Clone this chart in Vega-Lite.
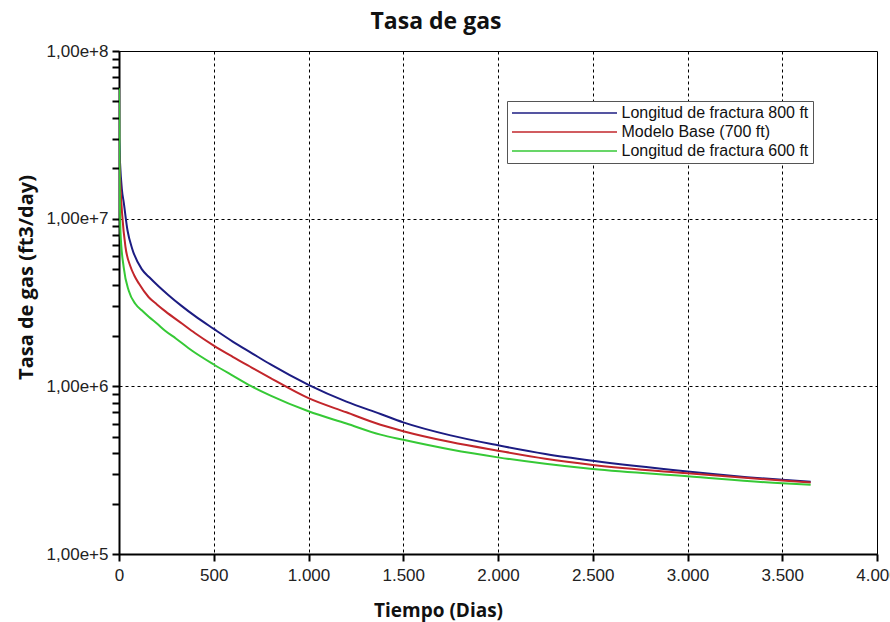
{
  "$schema": "https://vega.github.io/schema/vega-lite/v6.json",
  "autosize": "none",
  "width": 758,
  "height": 503,
  "padding": {"left": 119, "top": 51, "right": 13, "bottom": 68},
  "background": "white",
  "title": {"text": "Tasa de gas", "font": "Open Sans", "fontSize": 23, "fontWeight": "bold", "color": "#111", "anchor": "middle", "dx": -62, "offset": -10, "baseline": "alphabetic"},
  "data": {"values": [
    {"serie": "Longitud de fractura 800 ft", "t": 0, "q": 30000000},
    {"serie": "Longitud de fractura 800 ft", "t": 5, "q": 22000000},
    {"serie": "Longitud de fractura 800 ft", "t": 15, "q": 15000000},
    {"serie": "Longitud de fractura 800 ft", "t": 25, "q": 12500000},
    {"serie": "Longitud de fractura 800 ft", "t": 45, "q": 8500000},
    {"serie": "Longitud de fractura 800 ft", "t": 70, "q": 6600000},
    {"serie": "Longitud de fractura 800 ft", "t": 120, "q": 5000000},
    {"serie": "Longitud de fractura 800 ft", "t": 160, "q": 4470000},
    {"serie": "Longitud de fractura 800 ft", "t": 210, "q": 3940000},
    {"serie": "Longitud de fractura 800 ft", "t": 260, "q": 3510000},
    {"serie": "Longitud de fractura 800 ft", "t": 330, "q": 3020000},
    {"serie": "Longitud de fractura 800 ft", "t": 400, "q": 2630000},
    {"serie": "Longitud de fractura 800 ft", "t": 500, "q": 2200000},
    {"serie": "Longitud de fractura 800 ft", "t": 600, "q": 1850000},
    {"serie": "Longitud de fractura 800 ft", "t": 700, "q": 1580000},
    {"serie": "Longitud de fractura 800 ft", "t": 800, "q": 1350000},
    {"serie": "Longitud de fractura 800 ft", "t": 1000, "q": 1020000},
    {"serie": "Longitud de fractura 800 ft", "t": 1200, "q": 810000},
    {"serie": "Longitud de fractura 800 ft", "t": 1380, "q": 684000},
    {"serie": "Longitud de fractura 800 ft", "t": 1500, "q": 610000},
    {"serie": "Longitud de fractura 800 ft", "t": 1750, "q": 510000},
    {"serie": "Longitud de fractura 800 ft", "t": 2000, "q": 445000},
    {"serie": "Longitud de fractura 800 ft", "t": 2250, "q": 395000},
    {"serie": "Longitud de fractura 800 ft", "t": 2500, "q": 360000},
    {"serie": "Longitud de fractura 800 ft", "t": 3000, "q": 311000},
    {"serie": "Longitud de fractura 800 ft", "t": 3500, "q": 277000},
    {"serie": "Longitud de fractura 800 ft", "t": 3650, "q": 270000},
    {"serie": "Modelo Base (700 ft)", "t": 0, "q": 26000000},
    {"serie": "Modelo Base (700 ft)", "t": 5, "q": 18000000},
    {"serie": "Modelo Base (700 ft)", "t": 17, "q": 10500000},
    {"serie": "Modelo Base (700 ft)", "t": 34, "q": 6800000},
    {"serie": "Modelo Base (700 ft)", "t": 60, "q": 5200000},
    {"serie": "Modelo Base (700 ft)", "t": 80, "q": 4600000},
    {"serie": "Modelo Base (700 ft)", "t": 105, "q": 4100000},
    {"serie": "Modelo Base (700 ft)", "t": 157, "q": 3400000},
    {"serie": "Modelo Base (700 ft)", "t": 200, "q": 3080000},
    {"serie": "Modelo Base (700 ft)", "t": 245, "q": 2800000},
    {"serie": "Modelo Base (700 ft)", "t": 334, "q": 2360000},
    {"serie": "Modelo Base (700 ft)", "t": 400, "q": 2080000},
    {"serie": "Modelo Base (700 ft)", "t": 500, "q": 1750000},
    {"serie": "Modelo Base (700 ft)", "t": 600, "q": 1500000},
    {"serie": "Modelo Base (700 ft)", "t": 700, "q": 1295000},
    {"serie": "Modelo Base (700 ft)", "t": 800, "q": 1120000},
    {"serie": "Modelo Base (700 ft)", "t": 1000, "q": 850000},
    {"serie": "Modelo Base (700 ft)", "t": 1200, "q": 700000},
    {"serie": "Modelo Base (700 ft)", "t": 1380, "q": 590000},
    {"serie": "Modelo Base (700 ft)", "t": 1500, "q": 540000},
    {"serie": "Modelo Base (700 ft)", "t": 1750, "q": 465000},
    {"serie": "Modelo Base (700 ft)", "t": 2000, "q": 413000},
    {"serie": "Modelo Base (700 ft)", "t": 2250, "q": 370000},
    {"serie": "Modelo Base (700 ft)", "t": 2500, "q": 340000},
    {"serie": "Modelo Base (700 ft)", "t": 3000, "q": 303000},
    {"serie": "Modelo Base (700 ft)", "t": 3500, "q": 274000},
    {"serie": "Modelo Base (700 ft)", "t": 3650, "q": 267000},
    {"serie": "Longitud de fractura 600 ft", "t": 0, "q": 60000000},
    {"serie": "Longitud de fractura 600 ft", "t": 3, "q": 20000000},
    {"serie": "Longitud de fractura 600 ft", "t": 8, "q": 8200000},
    {"serie": "Longitud de fractura 600 ft", "t": 25, "q": 5100000},
    {"serie": "Longitud de fractura 600 ft", "t": 52, "q": 3700000},
    {"serie": "Longitud de fractura 600 ft", "t": 87, "q": 3100000},
    {"serie": "Longitud de fractura 600 ft", "t": 120, "q": 2840000},
    {"serie": "Longitud de fractura 600 ft", "t": 157, "q": 2600000},
    {"serie": "Longitud de fractura 600 ft", "t": 200, "q": 2370000},
    {"serie": "Longitud de fractura 600 ft", "t": 245, "q": 2140000},
    {"serie": "Longitud de fractura 600 ft", "t": 300, "q": 1930000},
    {"serie": "Longitud de fractura 600 ft", "t": 386, "q": 1630000},
    {"serie": "Longitud de fractura 600 ft", "t": 500, "q": 1350000},
    {"serie": "Longitud de fractura 600 ft", "t": 600, "q": 1160000},
    {"serie": "Longitud de fractura 600 ft", "t": 700, "q": 1000000},
    {"serie": "Longitud de fractura 600 ft", "t": 800, "q": 880000},
    {"serie": "Longitud de fractura 600 ft", "t": 1000, "q": 710000},
    {"serie": "Longitud de fractura 600 ft", "t": 1200, "q": 600000},
    {"serie": "Longitud de fractura 600 ft", "t": 1380, "q": 515000},
    {"serie": "Longitud de fractura 600 ft", "t": 1500, "q": 480000},
    {"serie": "Longitud de fractura 600 ft", "t": 1750, "q": 420000},
    {"serie": "Longitud de fractura 600 ft", "t": 2000, "q": 377000},
    {"serie": "Longitud de fractura 600 ft", "t": 2250, "q": 345000},
    {"serie": "Longitud de fractura 600 ft", "t": 2500, "q": 321000},
    {"serie": "Longitud de fractura 600 ft", "t": 3000, "q": 291000},
    {"serie": "Longitud de fractura 600 ft", "t": 3500, "q": 264000},
    {"serie": "Longitud de fractura 600 ft", "t": 3650, "q": 259000}
  ]},
  "mark": {"type": "line", "strokeWidth": 2, "clip": true, "interpolate": "monotone"},
  "encoding": {
    "x": {
      "field": "t", "type": "quantitative",
      "scale": {"domain": [0, 4000], "nice": false, "zero": false},
      "axis": {
        "values": [0, 500, 1000, 1500, 2000, 2500, 3000, 3500, 4000],
        "labelExpr": "replace(format(datum.value, ','), ',', '.')",
        "labelFont": "Liberation Sans", "labelFontSize": 17, "labelColor": "#222", "labelPadding": 6, "labelOverlap": false, "labelFlush": false,
        "tickSize": 7, "tickWidth": 2, "tickColor": "#000",
        "domainColor": "#000", "domainWidth": 2,
        "grid": true, "gridColor": "#000", "gridDash": [3, 3], "gridWidth": 1, "gridOpacity": {"condition": {"test": "datum.value > 0 && datum.value < 4000", "value": 1}, "value": 0},
        "title": "Tiempo (Dias)", "titleFont": "Open Sans", "titleFontSize": 19, "titleFontWeight": "bold", "titleColor": "#111",
        "titleX": 319, "titleY": 62, "titleAlign": "center", "titleBaseline": "alphabetic"
      }
    },
    "y": {
      "field": "q", "type": "quantitative",
      "scale": {"type": "log", "domain": [100000, 100000000], "nice": false},
      "axis": {
        "values": [100000, 200000, 300000, 400000, 500000, 600000, 700000, 800000, 900000, 1000000, 2000000, 3000000, 4000000, 5000000, 6000000, 7000000, 8000000, 9000000, 10000000, 20000000, 30000000, 40000000, 50000000, 60000000, 70000000, 80000000, 90000000, 100000000],
        "labelExpr": "(datum.value === 100000 || datum.value === 1000000 || datum.value === 10000000 || datum.value === 100000000) ? replace(format(datum.value, '.2e'), '.', ',') : ''",
        "labelFont": "Liberation Sans", "labelFontSize": 17, "labelColor": "#222", "labelPadding": 4, "labelOverlap": false, "labelFlush": false,
        "tickSize": 7, "tickWidth": 2, "tickColor": "#000",
        "domainColor": "#000", "domainWidth": 2,
        "grid": true, "gridColor": "#000", "gridDash": [3, 3], "gridWidth": 1,
        "gridOpacity": {"condition": {"test": "datum.value === 1000000 || datum.value === 10000000", "value": 1}, "value": 0},
        "title": "Tasa de gas (ft3/day)", "titleFont": "Open Sans", "titleFontSize": 20, "titleFontWeight": "bold", "titleColor": "#111",
        "titleX": -93, "titleY": 226, "titleAlign": "center", "titleBaseline": "middle", "titleAngle": -90
      }
    },
    "color": {
      "field": "serie", "type": "nominal",
      "scale": {"domain": ["Longitud de fractura 800 ft", "Modelo Base (700 ft)", "Longitud de fractura 600 ft"], "range": ["#1c1c82", "#c2262b", "#36c936"]},
      "legend": {
        "title": null, "orient": "none", "legendX": 388, "legendY": 50, "direction": "vertical",
        "fillColor": "white", "strokeColor": "#555", "padding": 4,
        "symbolType": "M-7.5,0H7.5", "symbolSize": 196, "symbolStrokeWidth": 1.5, "symbolOffset": 45.5,
        "labelFont": "Liberation Sans", "labelFontSize": 16, "labelColor": "#111", "labelOffset": 49, "labelLimit": 400,
        "rowPadding": 3
      }
    }
  },
  "config": {
    "view": {"stroke": "#000", "strokeWidth": 1},
    "axis": {"zindex": 0}
  }
}
